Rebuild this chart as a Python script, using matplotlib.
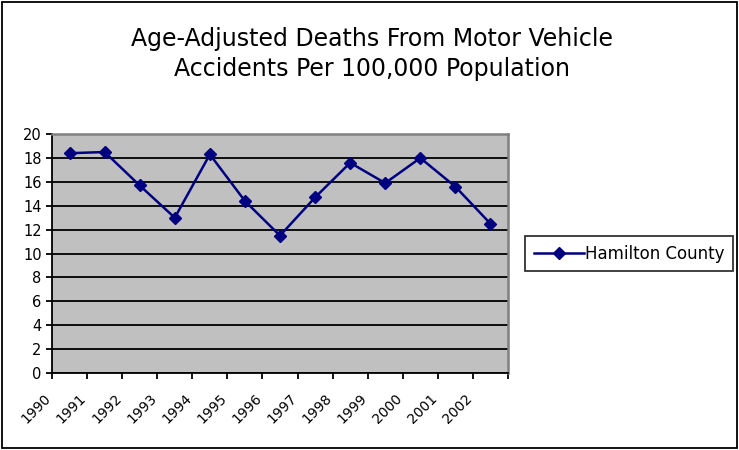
import matplotlib.pyplot as plt
import matplotlib.transforms as mtransforms
import numpy as np

years = ['1990', '1991', '1992', '1993', '1994', '1995', '1996',
         '1997', '1998', '1999', '2000', '2001', '2002']
deaths = [18.4, 18.5, 15.7, 13.0, 18.3, 14.4, 11.5, 14.7, 17.6, 15.9, 18.0, 15.6, 12.5]

plt.rcParams['font.family'] = ['DejaVu Sans']

fig = plt.figure(figsize=(7.39, 4.5), dpi=100)
ax = fig.add_axes([0.0704, 0.171, 0.617, 0.531])

x = np.arange(len(years))
ax.plot(x, deaths, color='#000080', marker='D', markersize=6.5, linewidth=1.8,
        label='Hamilton County', zorder=3)

ax.set_facecolor('#C0C0C0')
ax.set_xlim(-0.5, len(years) - 0.5)
ax.set_ylim(0, 20)
ax.set_yticks(np.arange(0, 21, 2))
ax.yaxis.grid(True, color='black', linewidth=1.3)
ax.set_axisbelow(True)

# category ticks sit on boundaries, labels hang off the left one
ax.set_xticks(np.arange(-0.5, len(years), 1.0))
ax.set_xticklabels(years + [''], rotation=45, ha='right', va='top',
                   rotation_mode='anchor', fontsize=10)
ax.tick_params(axis='x', length=4, width=1.3, pad=9, direction='out')
ax.tick_params(axis='y', length=4, width=1.3, labelsize=10.5, direction='out')
shift = mtransforms.ScaledTranslation(-8 / 100, 0, fig.dpi_scale_trans)
for lbl in ax.get_xticklabels():
    lbl.set_transform(lbl.get_transform() + shift)

for s in ['top', 'right']:
    ax.spines[s].set_color('#808080')
    ax.spines[s].set_linewidth(1.8)
for s in ['left', 'bottom']:
    ax.spines[s].set_color('black')
    ax.spines[s].set_linewidth(1.3)

fig.text(0.503, 0.88, 'Age-Adjusted Deaths From Motor Vehicle\nAccidents Per 100,000 Population',
         ha='center', va='center', fontsize=17, linespacing=1.3)

leg = fig.legend(loc='center left', bbox_to_anchor=(0.711, 0.436), fontsize=12,
                 frameon=True, fancybox=False, edgecolor='black', borderpad=0.5,
                 handlelength=3.0, handletextpad=0.1, borderaxespad=0)
leg.get_frame().set_linewidth(1.3)

# outer chart border
fig.patches.append(plt.Rectangle((0.003, 0.004), 0.994, 0.992, transform=fig.transFigure,
                                 fill=False, edgecolor='black', linewidth=1.3))

plt.savefig('out.png', dpi=100)
